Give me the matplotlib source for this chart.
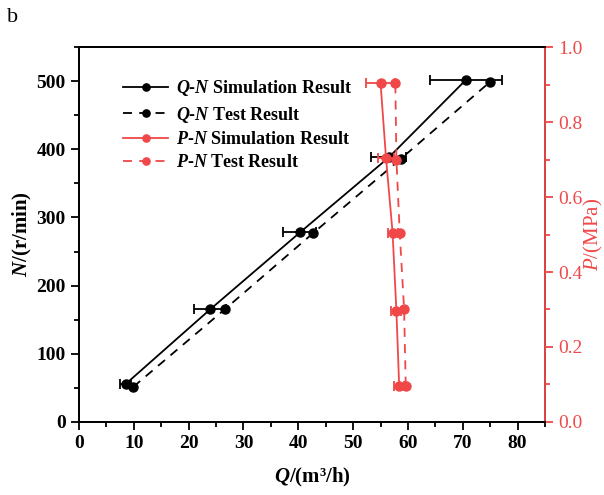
import matplotlib
matplotlib.use("Agg")
import matplotlib.pyplot as plt
from matplotlib.ticker import MultipleLocator

plt.rcParams["font.family"] = ["Liberation Serif", "DejaVu Serif"]
plt.rcParams["mathtext.fontset"] = "custom"
plt.rcParams["mathtext.rm"] = "Liberation Serif"
plt.rcParams["mathtext.it"] = "Liberation Serif:italic"
plt.rcParams["mathtext.bf"] = "Liberation Serif:bold"
plt.rcParams["mathtext.bfit"] = "Liberation Serif:italic:bold"

# Q-N data
q_sim = [8.5, 23.9, 40.3, 56.5, 70.6]
n_sim = [55.6, 165, 278, 388, 502]
q_sim_err = [1.0, 3.0, 3.0, 3.2, 6.5]
q_test = [9.9, 26.7, 42.7, 58.7, 75.0]
n_test = [51.5, 166, 277, 386, 499]

# P-N data (plotted against right axis)
pq_sim = [58.4, 57.9, 57.2, 56.0, 55.0]
p_sim = [0.097, 0.295, 0.505, 0.704, 0.905]
pq_sim_err = [0.9, 0.9, 0.9, 1.4, 2.7]
pq_test = [59.6, 59.3, 58.5, 57.9, 57.7]
p_test = [0.097, 0.301, 0.505, 0.699, 0.905]

red = "#f04848"

fig = plt.figure(figsize=(6.04, 4.95), dpi=100)
ax = fig.add_axes([0.1308, 0.1475, 0.7715, 0.7575])
ax2 = ax.twinx()

# black lines
l1, = ax.plot(q_sim, n_sim, "-", color="black", lw=1.3, marker="o", ms=6.5,
              mfc="black", mec="black", zorder=3)
ax.errorbar(q_sim, n_sim, xerr=q_sim_err, fmt="none", ecolor="black",
            elinewidth=1.3, capsize=3.5, capthick=1.3, zorder=2)
l2, = ax.plot(q_test, n_test, "--", color="black", lw=1.3, marker="o", ms=6.5,
              mfc="black", mec="black", dashes=(5, 4), zorder=3)

# red lines
l3, = ax2.plot(pq_sim, p_sim, "-", color=red, lw=1.3, marker="o", ms=6.5,
               mfc=red, mec=red, zorder=3)
ax2.errorbar(pq_sim, p_sim, xerr=pq_sim_err, fmt="none", ecolor=red,
             elinewidth=1.3, capsize=3.5, capthick=1.3, zorder=2)
l4, = ax2.plot(pq_test, p_test, "--", color=red, lw=1.3, marker="o", ms=6.5,
               mfc=red, mec=red, dashes=(5, 4), zorder=3)

ax.set_xlim(0, 85)
ax.set_ylim(0, 550)
ax2.set_ylim(0, 1.0)

ax.xaxis.set_major_locator(MultipleLocator(10))
ax.xaxis.set_minor_locator(MultipleLocator(5))
ax.yaxis.set_major_locator(MultipleLocator(100))
ax.yaxis.set_minor_locator(MultipleLocator(50))
ax2.yaxis.set_major_locator(MultipleLocator(0.2))
ax2.yaxis.set_minor_locator(MultipleLocator(0.1))

for a in (ax, ax2):
    for s in a.spines.values():
        s.set_linewidth(1.3)
ax.tick_params(axis="both", which="major", direction="out", length=6, width=1.3,
               labelsize=14)
ax.tick_params(axis="both", which="minor", direction="out", length=3.5, width=1.3)
for lab in ax.get_xticklabels() + ax.get_yticklabels():
    lab.set_fontweight("bold")

ax2.spines["right"].set_color(red)
ax2.tick_params(axis="y", which="major", direction="out", length=6, width=1.3,
                colors=red, labelsize=14)
ax2.tick_params(axis="y", which="minor", direction="out", length=3.5, width=1.3,
                colors=red)

ax.set_xlabel(r"$\mathbfit{Q}$/(m³/h)", fontsize=15, fontweight="bold", labelpad=10)
ax.set_ylabel(r"$\mathbfit{N}$/(r/min)", fontsize=15, fontweight="bold", labelpad=2)
ax2.set_ylabel(r"$\mathit{P}$/(MPa)", fontsize=15, color=red, labelpad=0)
ax2.yaxis.set_label_coords(1.08, 0.5)

labels = [r"$\mathbfit{Q}$-$\mathbfit{N}$ Simulation Result",
          r"$\mathbfit{Q}$-$\mathbfit{N}$ Test Result",
          r"$\mathbfit{P}$-$\mathbfit{N}$ Simulation Result",
          r"$\mathbfit{P}$-$\mathbfit{N}$ Test Result"]
leg = ax2.legend([l1, l2, l3, l4], labels, loc="upper left",
                 bbox_to_anchor=(0.06, 0.96), frameon=False,
                 prop={"weight": "bold", "size": 13}, handlelength=2.5,
                 handletextpad=0.4, labelspacing=0.35, markerscale=0.8)

fig.text(0.012, 0.955, "b", fontsize=16)

fig.savefig("out.png", dpi=100)
